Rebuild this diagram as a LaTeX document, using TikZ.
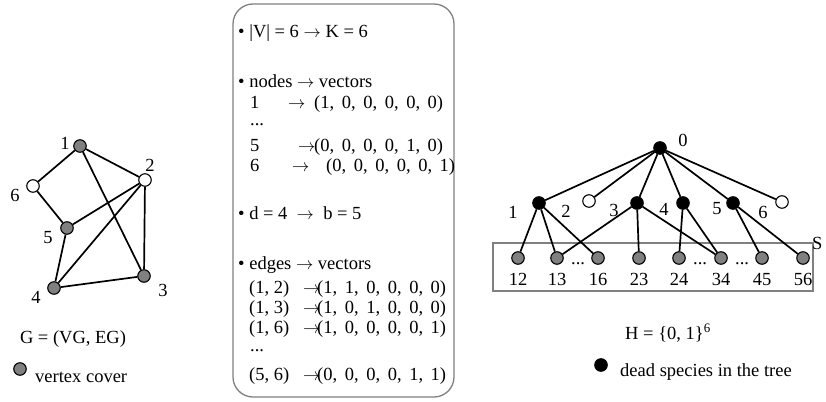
\documentclass[tikz,border=0pt]{standalone}
\usepackage{fontspec}
\setmainfont{Liberation Serif}
\usetikzlibrary{arrows.meta}
\newcommand{\widesp}{\spaceskip=7.6pt\relax}

\begin{document}
\begin{tikzpicture}[x=1pt, y=-1pt,
    every node/.style={inner sep=0pt, font=\fontsize{18.5}{21}\selectfont},
    vert/.style={circle, draw, line width=1.1pt, minimum size=12.5pt},
    cover/.style={vert, fill=black!50},
    dead/.style={vert, fill=black},
    free/.style={vert, fill=white},
    edge/.style={line width=1.7pt},
    txt/.style={anchor=base west},
    tup/.style={txt, execute at begin node=\widesp}]
    \useasboundingbox (0,0) rectangle (826,401);
    % graph G
    \node[cover] (g1) at (80,146) {};
    \node[free]  (g2) at (145,180) {};
    \node[cover] (g3) at (144,276) {};
    \node[cover] (g4) at (54,288) {};
    \node[cover] (g5) at (67,228) {};
    \node[free]  (g6) at (33,186) {};
        \draw[edge] (g1) -- (g2) -- (g3) -- (g4) -- (g5) -- (g6) -- (g1);
        \draw[edge] (g1) -- (g3) (g2) -- (g4) (g2) -- (g5);
    \node (n1) at (65,143) {1};
    \node (n2) at (150,165) {2};
    \node (n3) at (163,290) {3};
    \node (n4) at (36,297) {4};
    \node (n5) at (48,238) {5};
    \node (n6) at (15,195) {6};
    \node (gname) at (73,339) {G = (VG, EG)};
    \node[cover] (gkey) at (20,369) {};
    \node[anchor=west] (gkeytxt) at (35,377) {vertex cover};
    % the box
    \draw[black!50, line width=1.3pt, rounded corners=20pt] (233,4) rectangle (454,397);
    \node[txt] (b1) at (238,38) {• |V| = 6 $\rightarrow$\ K = 6};
    \node[txt] (b2) at (238,88) {• nodes $\rightarrow$\ vectors};
    \node[txt] (v1) at (250,108) {1};
    \node[txt] (v1a) at (288,108) {$\rightarrow$};
    \node[tup] (v1b) at (314,108) {(1, 0, 0, 0, 0, 0)};
    \node[txt] (vdots) at (250,125) {...};
    \node[txt] (v5) at (250,151) {5};
    \node[txt] (v5a) at (298,151) {$\rightarrow$};
    \node[tup] (v5b) at (314,151) {(0, 0, 0, 0, 1, 0)};
    \node[txt] (v6) at (250,171) {6};
    \node[txt] (v6a) at (292,171) {$\rightarrow$};
    \node[tup] (v6b) at (326,171) {(0, 0, 0, 0, 0, 1)};
    \node[txt] (b3) at (238,219) {• d = 4\ \ $\rightarrow$\ \ b = 5};
    \node[txt] (b4) at (238,269) {• edges $\rightarrow$ vectors};
    \node[txt] (e1) at (249,293) {(1, 2)};
    \node[txt] (e1a) at (303,293) {$\rightarrow$};
    \node[tup] (e1b) at (317,293) {(1, 1, 0, 0, 0, 0)};
    \node[txt] (e2) at (249,313) {(1, 3)};
    \node[txt] (e2a) at (303,313) {$\rightarrow$};
    \node[tup] (e2b) at (317,313) {(1, 0, 1, 0, 0, 0)};
    \node[txt] (e3) at (249,333) {(1, 6)};
    \node[txt] (e3a) at (303,333) {$\rightarrow$};
    \node[tup] (e3b) at (317,333) {(1, 0, 0, 0, 0, 1)};
    \node[txt] (edots) at (250,351) {...};
    \node[txt] (e4) at (249,380) {(5, 6)};
    \node[txt] (e4a) at (303,380) {$\rightarrow$};
    \node[tup] (e4b) at (317,380) {(0, 0, 0, 0, 1, 1)};
    % tree
    \draw[black!50, line width=1.2pt] (493,243) rectangle (813,291);
    \node[anchor=west] (S) at (812,243) {S};
    \node[dead] (t0) at (660,148) {};
    \node[dead] (t1) at (539,203) {};
    \node[free] (t2) at (589,201) {};
    \node[dead] (t3) at (637,203) {};
    \node[dead] (t4) at (683,203) {};
    \node[dead] (t5) at (733,203) {};
    \node[free] (t6) at (782,202) {};
    \foreach \x/\n in {518/12, 557/13, 598/16, 639/23, 679/24, 721/34, 762/45, 803/56} {
        \node[cover] (l\n) at (\x,258) {};
        \node (k\n) at (\x,279) {\n};
    }
        \foreach \i in {1,...,6} \draw[edge] (t0) -- (t\i);
        \draw[edge] (t1) -- (l12) (t1) -- (l13) (t1) -- (l16);
        \draw[edge] (t3) -- (l13) (t3) -- (l23) (t3) -- (l34);
        \draw[edge] (t4) -- (l24) (t4) -- (l34);
        \draw[edge] (t5) -- (l45) (t5) -- (l56);
    \node (m0) at (683,140) {0};
    \node (m1) at (513,212) {1};
    \node (m2) at (566,211) {2};
    \node (m3) at (614,210) {3};
    \node (m4) at (664,209) {4};
    \node (m5) at (717,209) {5};
    \node (m6) at (763,212) {6};
    \node[txt] (d1) at (571,264) {...};
    \node[txt] (d2) at (693,264) {...};
    \node[txt] (d3) at (735,264) {...};
    \node (hname) at (668,333) {H = \{0, 1\}\textsuperscript{6}};
    \node[dead] (tkey) at (601,365) {};
    \node[anchor=west] (tkeytxt) at (620,372) {dead species in the tree};
\end{tikzpicture}
\end{document}
